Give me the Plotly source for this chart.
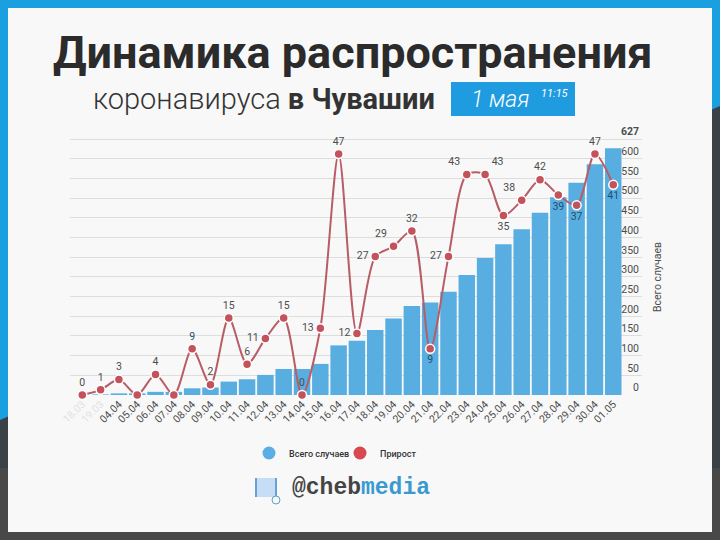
import plotly.graph_objects as go

W = 720
H = 540

dates = ['18.03', '19.03', '04.04', '05.04', '06.04', '07.04', '08.04', '09.04', '10.04', '11.04',
         '12.04', '13.04', '14.04', '15.04', '16.04', '17.04', '18.04', '19.04', '20.04', '21.04',
         '22.04', '23.04', '24.04', '25.04', '26.04', '27.04', '28.04', '29.04', '30.04', '01.05']
total = [0, 1, 4, 4, 8, 8, 17, 19, 34, 40, 51, 66, 66, 79, 126, 138, 165, 194, 226, 235,
         262, 305, 348, 383, 421, 463, 502, 539, 586, 627]
growth = [0, 1, 3, 0, 4, 0, 9, 2, 15, 6, 11, 15, 0, 13, 47, 12, 27, 29, 32, 9,
          27, 43, 43, 35, 38, 42, 39, 37, 47, 41]
growth_labels = ['0', '1', '3', '', '4', '', '9', '2', '15', '6', '11', '15', '0', '13', '47', '12', '27', '29', '32', '9',
                 '27', '43', '43', '35', '38', '42', '39', '37', '47', '41']
label_pos = ['top center', 'top center', 'top center', 'top center', 'top center', 'top center',
             'top center', 'top center', 'top center', 'top center', 'middle left', 'top center',
             'top center', 'middle left', 'top center', 'middle left', 'middle left', 'top left',
             'top center', 'bottom center', 'middle left', 'top left', 'top right', 'bottom center',
             'top left', 'top center', 'bottom center', 'bottom center', 'top center', 'bottom center']
y_ticks = [0, 50, 100, 150, 200, 250, 300, 350, 400, 450, 500, 550, 600, 650]
y_labels = ['0', '50', '100', '150', '200', '250', '300', '350', '400', '450', '500', '550', '600', '<b>627</b>']

BLUE = '#58aee0'
RED = '#c4525b'
GREY = '#4d4d4d'


def px(x):
    return x / W


def py(y):
    return 1 - y / H


def rect(x0, y0, x1, y1, color):
    return dict(type='rect', xref='paper', yref='paper', x0=px(x0), x1=px(x1), y0=py(y0), y1=py(y1),
                fillcolor=color, line_width=0, layer='below')


def line(x0, y0, x1, y1, color, width):
    return dict(type='line', xref='paper', yref='paper', x0=px(x0), x1=px(x1), y0=py(y0), y1=py(y1),
                line=dict(color=color, width=width))


tick_text = ['<span style="color:#e2e2e2">%s</span>' % d if i < 2 else d for i, d in enumerate(dates)]
text_colors = ['#1f4f70' if t in ('39', '37', '41', '9') else GREY for t in growth_labels]

fig = go.Figure()
fig.add_trace(go.Bar(x=dates, y=total, marker=dict(color=BLUE, line_width=0), showlegend=False, cliponaxis=False))
fig.add_trace(go.Scatter(x=dates, y=growth, yaxis='y2', mode='lines+markers+text', showlegend=False,
                         line=dict(color='#b85c66', width=2, shape='spline', smoothing=0.8),
                         marker=dict(color=RED, size=9, line=dict(color='white', width=1.5)),
                         text=growth_labels, textposition=label_pos,
                         textfont=dict(family='Roboto', size=10.5, color=text_colors), cliponaxis=False))
# circles for the legend only
fig.add_trace(go.Scatter(x=[None], y=[None], mode='markers', name='Всего случаев',
                         marker=dict(color='#5aaee3', size=13)))
fig.add_trace(go.Scatter(x=[None], y=[None], mode='markers', name='Прирост',
                         marker=dict(color='#d9474f', size=13)))

shapes = [
    rect(0, 0, W, H, '#484848'),
    rect(0, 0, W, 440, '#1a9fe0'),
    dict(type='path', xref='paper', yref='paper', layer='below', fillcolor='#3b4247', line_width=0,
         path='M %f %f L %f %f L %f %f L %f %f Z' % (px(0), py(420), px(W), py(106), px(W), py(468), px(0), py(468))),
    rect(8, 8, 712, 532, '#f8f8f8'),
    rect(451, 82, 575, 116, '#1f9be0'),
    dict(type='rect', xref='paper', yref='paper', x0=px(257), x1=px(276), y0=py(478), y1=py(497),
         fillcolor='#c6ddf6', line_width=0),
    line(256, 478, 256, 497, '#6aa0d8', 2),
    line(276, 478, 276, 497, '#6aa0d8', 2),
    dict(type='circle', xref='paper', yref='paper', x0=px(272), x1=px(280), y0=py(504), y1=py(496),
         fillcolor='#f8f8f8', line=dict(color='#5f9fc0', width=1)),
]

annotations = [
    dict(text='<b>Динамика распространения</b>', x=px(353), y=py(52), xanchor='center', yanchor='middle',
         font=dict(family='Roboto', size=45, color='#2b2b2b')),
    dict(text='коронавируса <b>в Чувашии</b>', x=px(91), y=py(99), xanchor='left', yanchor='middle',
         font=dict(family='Roboto', size=29, color='#333333', weight=300)),
    dict(text='<i>1 мая</i>', x=px(469), y=py(100), xanchor='left', yanchor='middle',
         font=dict(family='Roboto', size=23, color='white', weight=300)),
    dict(text='<i>11:15</i>', x=px(539), y=py(94), xanchor='left', yanchor='middle',
         font=dict(family='Roboto', size=11, color='white')),
    dict(text='Всего случаев', x=px(657), y=py(277), xanchor='center', yanchor='middle', textangle=-90,
         font=dict(family='Roboto', size=10.5, color=GREY)),
    dict(text='@cheb<span style="color:#3a9ad0">media</span>', x=px(290), y=py(488), xanchor='left', yanchor='middle',
         font=dict(family='Liberation Mono', size=23, color='#444444', weight='bold')),
]
for a in annotations:
    a.update(xref='paper', yref='paper', showarrow=False)

fig.update_layout(
    width=W, height=H, margin=dict(l=0, r=0, t=0, b=0, pad=0),
    paper_bgcolor='#f8f8f8', plot_bgcolor='rgba(0,0,0,0)',
    bargap=0.1, shapes=shapes, annotations=annotations,
    legend=dict(orientation='h', x=px(249), y=py(453), xanchor='left', yanchor='middle', entrywidth=46,
                bgcolor='rgba(0,0,0,0)', font=dict(family='Roboto', size=9, color='#333333', weight=500)),
    xaxis=dict(domain=[px(70), px(642)], type='category', range=[-0.672, 30.57], tickangle=-45, automargin=False,
               tickmode='array', tickvals=dates, ticktext=tick_text, ticks='', showgrid=False, zeroline=False,
               tickfont=dict(family='Roboto', size=10.5, color=GREY)),
    yaxis=dict(domain=[py(395), py(119.4)], range=[0, 700], side='right', tickmode='array', automargin=False,
               tickvals=y_ticks, ticktext=y_labels, ticklabelposition='inside top',
               gridcolor='#dddddd', gridwidth=1, zeroline=False, ticks='',
               tickfont=dict(family='Roboto', size=10.5, color=GREY)),
    yaxis2=dict(overlaying='y', range=[0, 53.77], visible=False, automargin=False),
)

# page body has a default margin, drop it so the figure fills the window
fig.write_html('out.html', post_script="document.body.style.margin='0';", config=dict(displayModeBar=False))
